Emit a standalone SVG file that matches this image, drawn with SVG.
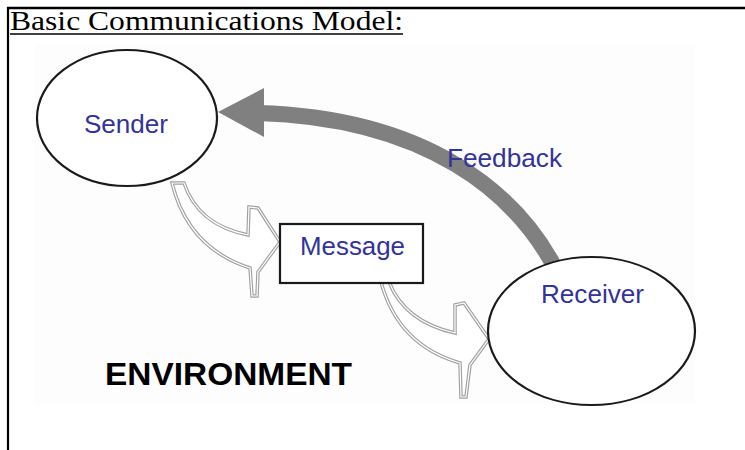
<svg xmlns="http://www.w3.org/2000/svg" width="745" height="450" viewBox="0 0 745 450">
<style>
.lbl{font-family:"Liberation Sans",Arial,sans-serif;font-size:25px;fill:#333399}
.node{fill:#ffffff;stroke:#1a1a1a;stroke-width:2.2}
.hollow{fill:#ffffff;stroke:#a0a0a0;stroke-width:3.5;stroke-linejoin:miter}
.hollowIn{fill:none;stroke:#ffffff;stroke-width:1.2;stroke-linejoin:miter}
</style>
<rect width="745" height="450" fill="#ffffff"/>
<rect x="35" y="45" width="660" height="360" fill="#fdfdfd"/>
<line x1="7" y1="8" x2="745" y2="8" stroke="#000" stroke-width="2.5"/>
<line x1="8" y1="7" x2="8" y2="450" stroke="#000" stroke-width="2.2"/>
<text x="10" y="30" font-family="'Liberation Serif','Times New Roman',serif" font-size="27" fill="#000" textLength="393" lengthAdjust="spacingAndGlyphs">Basic Communications Model:</text>
<line x1="10" y1="34" x2="403" y2="34" stroke="#000" stroke-width="1.5"/>
<g id="connectors">
<g id="msg-arrow-1">
<path class="hollow" d="M184,183 Q198,225 248,235 L249,207 L258,208 L280,242 L258,272 L257,296 L252,296 L250,268 Q188,248 172,183 Z"/>
<path class="hollowIn" d="M184,183 Q198,225 248,235 L249,207 L258,208 L280,242 L258,272 L257,296 L252,296 L250,268 Q188,248 172,183 Z"/>
</g>
<g id="msg-arrow-2">
<path class="hollow" d="M389,282 Q405,322 455,333 L455,305 L464,303 L489,339 L470,365 L466,397 L461,397 L460,363 Q398,345 381,282 Z"/>
<path class="hollowIn" d="M389,282 Q405,322 455,333 L455,305 L464,303 L489,339 L470,365 L466,397 L461,397 L460,363 Q398,345 381,282 Z"/>
</g>
<g id="feedback-arrow">
<path d="M553,264 C515,195 430,118 258,113" fill="none" stroke="#808080" stroke-width="16"/>
<polygon points="218,112 264,88 264,137" fill="#808080"/>
</g>
</g>
<g id="sender">
<ellipse class="node" cx="127" cy="118" rx="90" ry="68"/>
<text class="lbl" x="84" y="133" textLength="84" lengthAdjust="spacingAndGlyphs">Sender</text>
</g>
<g id="message">
<rect class="node" x="280" y="224" width="143" height="59"/>
<text class="lbl" x="300" y="255" textLength="105" lengthAdjust="spacingAndGlyphs">Message</text>
</g>
<g id="receiver">
<ellipse class="node" cx="591.5" cy="331" rx="103.5" ry="74"/>
<text class="lbl" x="541" y="303" textLength="103" lengthAdjust="spacingAndGlyphs">Receiver</text>
</g>
<g id="feedback-label">
<text class="lbl" x="447" y="167" textLength="115" lengthAdjust="spacingAndGlyphs">Feedback</text>
</g>
<g id="environment">
<text x="105" y="385" font-family="'Liberation Sans',Arial,sans-serif" font-weight="bold" font-size="31" fill="#000" textLength="247" lengthAdjust="spacingAndGlyphs">ENVIRONMENT</text>
</g>
</svg>
